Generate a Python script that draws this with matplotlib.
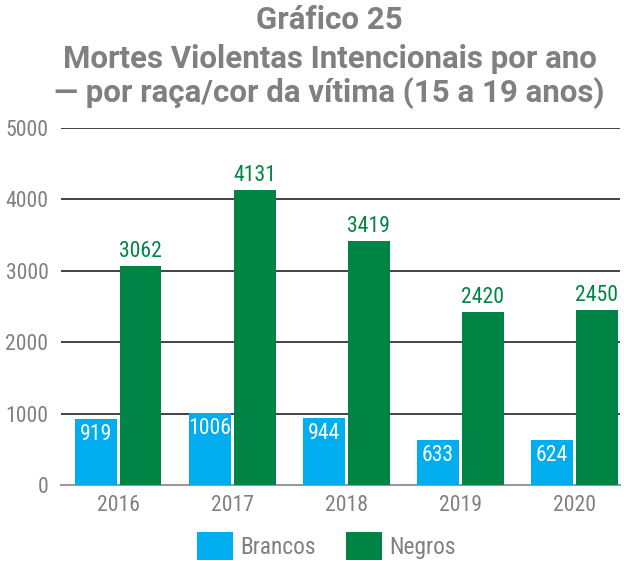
import matplotlib
matplotlib.use("Agg")
import matplotlib.pyplot as plt
import numpy as np
from matplotlib import font_manager

years = ["2016", "2017", "2018", "2019", "2020"]
brancos = [919, 1006, 944, 633, 624]
negros = [3062, 4131, 3419, 2420, 2450]
series_names = ["Brancos", "Negros"]
yticks = [0, 1000, 2000, 3000, 4000, 5000]

names = {f.name for f in font_manager.fontManager.ttflist}
cands = ["Liberation Sans Narrow", "Roboto Condensed", "Open Sans Condensed", "Noto Sans Condensed", "Roboto"]
fam = next((c for c in cands if c in names), "DejaVu Sans")
plt.rcParams['font.family'] = [fam, 'DejaVu Sans']
cond = fam != "Roboto" and fam != "DejaVu Sans"
k = 1.12 if cond else 1.0
title_fam = ["Roboto", "DejaVu Sans"] if "Roboto" in names else ["DejaVu Sans"]

blue = "#00AEEF"
green = "#008445"
gray = "#808080"

fig = plt.figure(figsize=(6.24, 5.61), dpi=100)
ax = fig.add_axes([61/624, 1-485/561, (620-61)/624, (485-128)/561])

x = np.arange(len(years))
w = 0.367
off = 0.197
b1 = ax.bar(x - off, brancos, w, color=blue, label=series_names[0], zorder=3)
b2 = ax.bar(x + off, negros, w, color=green, label=series_names[1], zorder=3)

for xi, v in zip(x, brancos):
    ax.text(xi - off, v - 70, str(v), ha="center", va="top", color="white", fontsize=14*k, zorder=4)
for xi, v in zip(x, negros):
    ax.text(xi + off, v + 60, str(v), ha="center", va="bottom", color=green, fontsize=14*k,
            fontweight="normal", zorder=4)

ax.set_xlim(-0.5, 4.4)
ax.set_ylim(0, 5000)
ax.set_yticks(yticks)
ax.set_yticklabels([str(t) for t in yticks])
ax.set_xticks(x)
ax.set_xticklabels(years)
for s in ["top", "right", "left"]:
    ax.spines[s].set_visible(False)
ax.spines["bottom"].set_color("#999999")
ax.spines["bottom"].set_linewidth(1.5)
ax.yaxis.grid(True, color="#222222", linewidth=1.2, zorder=0)
ax.set_axisbelow(True)
ax.tick_params(axis="both", length=0, labelsize=14*k, labelcolor=gray)
ax.tick_params(axis="y", pad=9)
ax.tick_params(axis="x", pad=7)

tfs = 22.5
for yy, txt in [(20, "Gráfico 25"), (59, "Mortes Violentas Intencionais por ano"),
                (93, "— por raça/cor da vítima (15 a 19 anos)")]:
    fig.text(0.528, 1-yy/561, txt, ha="center", va="center", fontsize=tfs, fontweight="bold",
             color=gray, family=title_fam)

leg = fig.legend(handles=[b1, b2], labels=series_names, loc="center", bbox_to_anchor=(0.523, 1-546/561),
                 ncol=2, frameon=False, fontsize=15*k, handlelength=1.55, handleheight=1.5,
                 columnspacing=1.3, handletextpad=0.3, borderaxespad=0)
for t in leg.get_texts():
    t.set_color(gray)

fig.savefig("out.png", dpi=100)
